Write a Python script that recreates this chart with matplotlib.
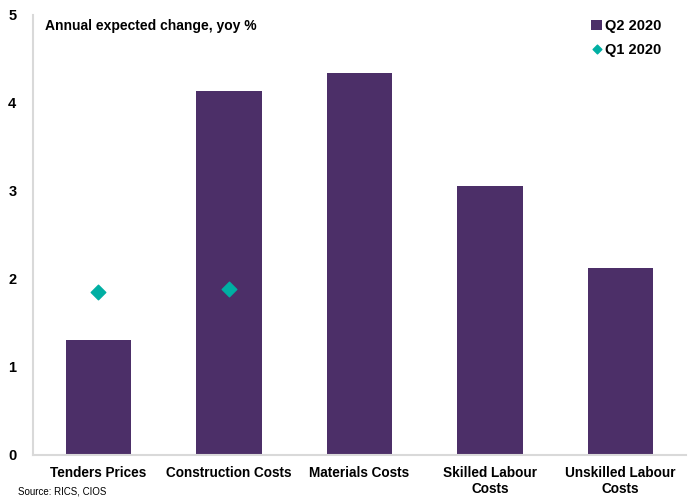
import matplotlib
matplotlib.use("Agg")
import matplotlib.pyplot as plt
import numpy as np

plt.rcParams['font.family'] = ['Liberation Sans', 'DejaVu Sans']

### chart data
categories = ['Tenders Prices', 'Construction Costs', 'Materials Costs',
              'Skilled Labour\nCosts', 'Unskilled Labour\nCosts']
q2_2020 = [1.31, 4.14, 4.34, 3.06, 2.13]
q1_2020 = [1.85, 1.89, np.nan, np.nan, np.nan]
###

bar_color = '#4C2F68'
dot_color = '#00AFA3'

fig = plt.figure(figsize=(6.92, 4.97), dpi=100)
ax = fig.add_axes([33/692, 1 - 455/497, 653/692, 440/497])

x = np.arange(len(categories))
bars = ax.bar(x, q2_2020, width=0.5, color=bar_color, label='Q2 2020', zorder=2)
dots = ax.scatter(x, q1_2020, marker='D', s=55, color=dot_color, label='Q1 2020', zorder=3)

ax.set_xlim(-0.5, len(categories) - 0.5)
ax.set_ylim(0, 5)
ax.set_yticks(range(6))
ax.set_xticks(x)
ax.set_xticklabels(categories, fontsize=9.8, fontweight='bold')
for lbl in ax.get_yticklabels():
    lbl.set_fontweight('bold')
    lbl.set_fontsize(10.5)
ax.tick_params(axis='both', length=0)
ax.tick_params(axis='y', pad=12)
ax.tick_params(axis='x', pad=8)

for s in ['top', 'right']:
    ax.spines[s].set_visible(False)
ax.spines['left'].set_color('#d9d9d9')
ax.spines['bottom'].set_color('#d9d9d9')
ax.spines['left'].set_linewidth(1.5)
ax.spines['bottom'].set_linewidth(1.5)

ax.text(0.018, 0.99, 'Annual expected change, yoy %', transform=ax.transAxes,
        fontsize=10, fontweight='bold', va='top', ha='left')

leg = ax.legend([bars, dots], ['Q2 2020', 'Q1 2020'], loc='upper right',
                bbox_to_anchor=(0.975, 1.01), frameon=False,
                prop={'weight': 'bold', 'size': 10.5}, handletextpad=0.2,
                handlelength=0.7, handleheight=0.7, labelspacing=0.65,
                borderaxespad=0.2, markerscale=0.6, scatteryoffsets=[0.5])

fig.text(18/692, 0.002, 'Source: RICS, CIOS', fontsize=7, va='bottom', ha='left')

fig.savefig('out.png', dpi=100)
